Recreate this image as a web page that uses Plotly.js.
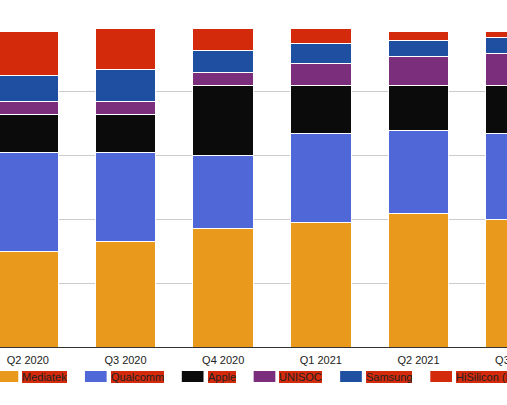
<!DOCTYPE html>
<html>
<head>
<meta charset="utf-8">
<script src="https://cdn.plot.ly/plotly-3.0.1.min.js"></script>
<style>
  html, body { margin: 0; padding: 0; background: #fff; overflow: hidden; width: 507px; height: 405px; }
  #chart { position: absolute; left: -21px; top: 0; width: 586px; height: 405px; }
</style>
</head>
<body>
<div id="chart"></div>
<script>
const quarters = ["Q2 2020", "Q3 2020", "Q4 2020", "Q1 2021", "Q2 2021", "Q3 2021"];
const seriesNames = ["Mediatek", "Qualcomm", "Apple", "UNISOC", "Samsung", "HiSilicon (Huawei)"];
const mediatek  = [30, 33, 37, 39, 42, 40];
const qualcomm  = [31, 28, 23, 28, 26, 27];
const apple     = [12, 12, 22, 15, 14, 15];
const unisoc    = [4, 4, 4, 7, 9, 10];
const samsung   = [8, 10, 7, 6, 5, 5];
const hisilicon = [14, 13, 7, 5, 3, 2];
const yTicks = [0, 20, 40, 60, 80, 100];

const seriesValues = [mediatek, qualcomm, apple, unisoc, samsung, hisilicon];
const colors = ["#E99A1C", "#5067D7", "#0B0B0B", "#7B2E7B", "#1F4FA0", "#D42A0C"];

const OFFSET = 21;              // chart is shifted left; the window crops it
const W = 586, H = 405;
const margin = { l: 0, r: 0, t: 28, b: 58 };
const plotH = H - margin.t - margin.b;
const FONT = 'Arial, "Liberation Sans", sans-serif';

const traces = seriesNames.map((name, i) => ({
  type: "bar",
  name: name,
  x: quarters,
  y: seriesValues[i],
  marker: { color: colors[i], line: { color: "#ffffff", width: 1 } },
  hoverinfo: "none"
}));

// Custom legend (swatch + label with red highlight behind the label text)
const ctx = document.createElement("canvas").getContext("2d");
ctx.font = '11px ' + FONT;
const swW = 21.7, swH = 11, gapIn = 4, gapOut = 18;
const legendCenterY = 376.5;
const toPaperY = py => (H - margin.b - py) / plotH;
const toPaperX = px => (px + OFFSET) / W;
let cursor = -3.4;
const shapes = [];
const annotations = [];
seriesNames.forEach((name, i) => {
  shapes.push({
    type: "rect", xref: "paper", yref: "paper",
    x0: toPaperX(cursor), x1: toPaperX(cursor + swW),
    y0: toPaperY(legendCenterY + swH / 2), y1: toPaperY(legendCenterY - swH / 2),
    fillcolor: colors[i], line: { width: 0 }, layer: "above"
  });
  cursor += swW + gapIn;
  annotations.push({
    xref: "paper", yref: "paper",
    x: toPaperX(cursor), y: toPaperY(legendCenterY),
    xanchor: "left", yanchor: "middle",
    text: name, showarrow: false,
    bgcolor: "#D42A0C", borderpad: 0, borderwidth: 0,
    font: { family: FONT, size: 11, color: "#222222" }
  });
  cursor += ctx.measureText(name).width + gapOut;
});

const layout = {
  width: W, height: H,
  margin: margin,
  paper_bgcolor: "#ffffff",
  plot_bgcolor: "#ffffff",
  barmode: "stack",
  bargap: 0.376,
  showlegend: false,
  font: { family: FONT, size: 11, color: "#222222" },
  xaxis: {
    type: "category",
    range: [-0.5, 5.5],
    showgrid: false,
    showline: true, linecolor: "#333333", linewidth: 1,
    ticks: "", ticklabelstandoff: 3,
    tickfont: { family: FONT, size: 11, color: "#222222" },
    fixedrange: true
  },
  yaxis: {
    range: [0, 100],
    tickvals: yTicks,
    showticklabels: false,
    showgrid: true, gridcolor: "#cccccc", gridwidth: 1,
    zeroline: false,
    fixedrange: true
  },
  shapes: shapes,
  annotations: annotations
};

Plotly.newPlot("chart", traces, layout, { displayModeBar: false, staticPlot: true });
</script>
</body>
</html>
